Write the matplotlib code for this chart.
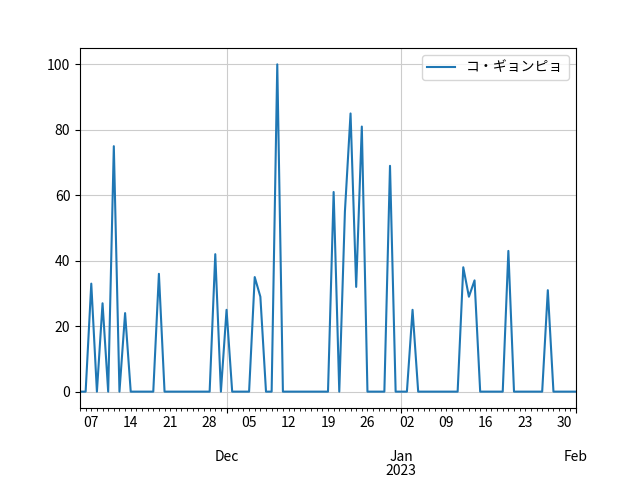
import matplotlib
matplotlib.use("Agg")
from matplotlib import pyplot as plt
import matplotlib.dates as mdates
from matplotlib.ticker import FuncFormatter
import pandas as pd

plt.rcParams['font.family'] = ['Noto Sans CJK JP', 'DejaVu Sans']

start_date = "2022-11-05"
end_date = "2023-02-01"
series_name = "コ・ギョンピョ"

values = [
    # Nov 5 - Nov 30
    0, 0, 33, 0, 27, 0, 75, 0, 24, 0, 0, 0, 0, 0, 36, 0, 0, 0, 0, 0,
    0, 0, 0, 0, 42, 0,
    # Dec 1 - Dec 31
    25, 0, 0, 0, 0, 35, 29, 0, 0, 100, 0, 0, 0, 0, 0, 0, 0, 0, 0, 61,
    0, 55, 85, 32, 81, 0, 0, 0, 0, 69, 0,
    # Jan 1 - Jan 31
    0, 0, 25, 0, 0, 0, 0, 0, 0, 0, 0, 38, 29, 34, 0, 0, 0, 0, 0, 43,
    0, 0, 0, 0, 0, 0, 31, 0, 0, 0, 0,
    # Feb 1
    0,
]

dates = pd.date_range(start_date, end_date, freq="D")


def month_label(x, pos):
    d = mdates.num2date(x)
    if d.month == 1:
        return d.strftime("%b\n%Y")
    return d.strftime("%b")


def day_label(x, pos):
    d = mdates.num2date(x)
    # weekly labels on Mondays
    if d.weekday() == 0:
        return d.strftime("%d")
    return ""


fig, ax = plt.subplots(figsize=(6.4, 4.8), dpi=100)
fig.subplots_adjust(left=0.125, right=0.9, top=0.9, bottom=0.15)
ax.plot(dates, values, color="#1f77b4", label=series_name)
ax.set_xlim(dates[0], dates[-1])

ax.xaxis.set_major_locator(mdates.MonthLocator())
ax.xaxis.set_major_formatter(FuncFormatter(month_label))
ax.xaxis.set_minor_locator(mdates.DayLocator())
ax.xaxis.set_minor_formatter(FuncFormatter(day_label))
ax.tick_params(axis="x", which="major", length=3.5, pad=26.5)
ax.tick_params(axis="x", which="minor", length=2, pad=3.5, labelsize=10)
for lbl in ax.get_xticklabels():
    lbl.set_linespacing(1.0)

ax.set_yticks([0, 20, 40, 60, 80, 100])
ax.grid(True, which="major", color="#cccccc")
ax.legend(loc="upper right")
fig.savefig("out.png")
